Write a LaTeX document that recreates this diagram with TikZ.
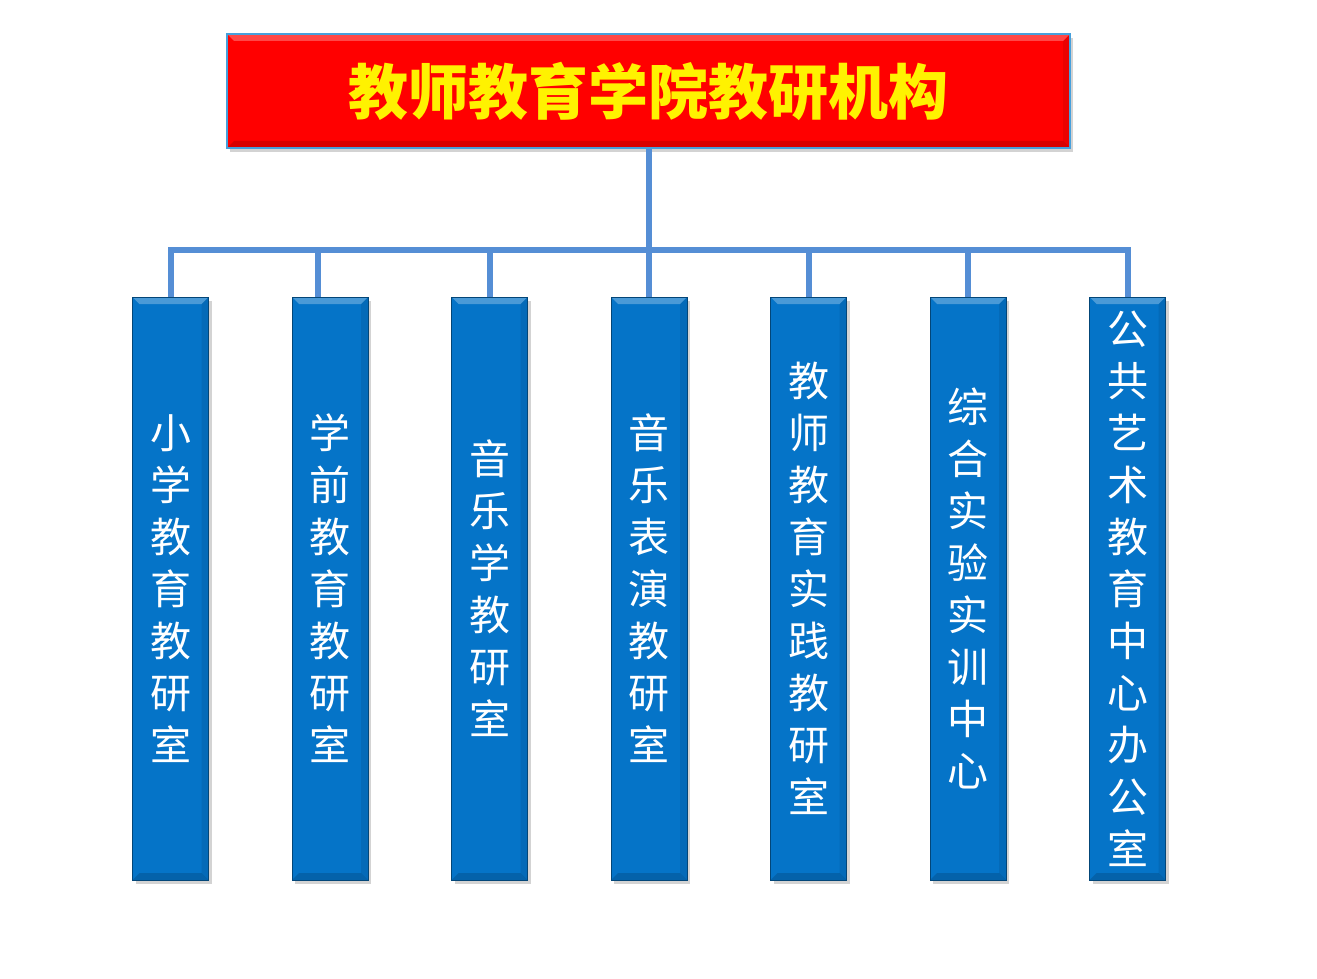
\documentclass[tikz,border=0pt]{standalone}
\usepackage{fontspec}
\newfontfamily\cjk{Noto Sans CJK SC}
\usetikzlibrary{shadows,calc}
\definecolor{barblue}{RGB}{85,142,213}
\definecolor{boxblue}{RGB}{5,116,200}
\definecolor{rimblue}{RGB}{70,160,220}

\begin{document}
\begin{tikzpicture}[x=1pt,y=-1pt,
    bevel/.style={path picture={
      \fill[white,opacity=0.28] (path picture bounding box.north west) -- (path picture bounding box.north east)
        -- ++(-7,7) -- ($(path picture bounding box.north west)+(7,7)$) -- cycle;
      \fill[black,opacity=0.15] (path picture bounding box.south west) -- (path picture bounding box.south east)
        -- ++(-7,-7) -- ($(path picture bounding box.south west)+(7,-7)$) -- cycle;
      \fill[black,opacity=0.08] (path picture bounding box.north east) -- (path picture bounding box.south east)
        -- ++(-7,-7) -- ($(path picture bounding box.north east)+(-7,7)$) -- cycle;}},
    unit/.style={draw=boxblue!60!black,fill=boxblue,minimum width=76pt,minimum height=583pt,
      inner sep=0pt,text=white,align=center,font=\cjk\fontsize{41}{52}\selectfont,bevel,
      drop shadow={shadow xshift=3pt,shadow yshift=-4pt,opacity=0.35}},
    head/.style={draw=rimblue,line width=1.2pt,fill=red,minimum width=843pt,minimum height=114pt,
      text=yellow,font=\cjk\bfseries\fontsize{60}{62}\selectfont,bevel,
      drop shadow={shadow xshift=3pt,shadow yshift=-4pt,opacity=0.35}},
    link/.style={barblue,line width=6pt}]
  \useasboundingbox (0,0) rectangle (1317,979);

  % title and the seven offices
  \node[head] (title) at (648.5,91) {教师教育学院教研机构};
  \node[unit] (b1) at (170.5,588.5) {小\\学\\教\\育\\教\\研\\室};
  \node[unit] (b2) at (330,588.5) {学\\前\\教\\育\\教\\研\\室};
  \node[unit] (b3) at (489.5,588.5) {音\\乐\\学\\教\\研\\室};
  \node[unit] (b4) at (649,588.5) {音\\乐\\表\\演\\教\\研\\室};
  \node[unit] (b5) at (808.5,588.5) {教\\师\\教\\育\\实\\践\\教\\研\\室};
  \node[unit] (b6) at (968,588.5) {综\\合\\实\\验\\实\\训\\中\\心};
  \node[unit] (b7) at (1127.5,588.5) {公\\共\\艺\\术\\教\\育\\中\\心\\办\\公\\室};

  % connectors
  \coordinate (bar) at (0,250);
  \draw[link] (b1.north) |- (b7.north |- bar) -- (b7.north);
  \draw[link] (title.south) -- (title.south |- b4.north);
  \draw[link] ([xshift=-12pt]b2.north) -- ([xshift=-12pt]b2.north |- bar);
  \foreach \i in {3,5,6}
    \draw[link] (b\i.north) -- (b\i.north |- bar);
\end{tikzpicture}
\end{document}
